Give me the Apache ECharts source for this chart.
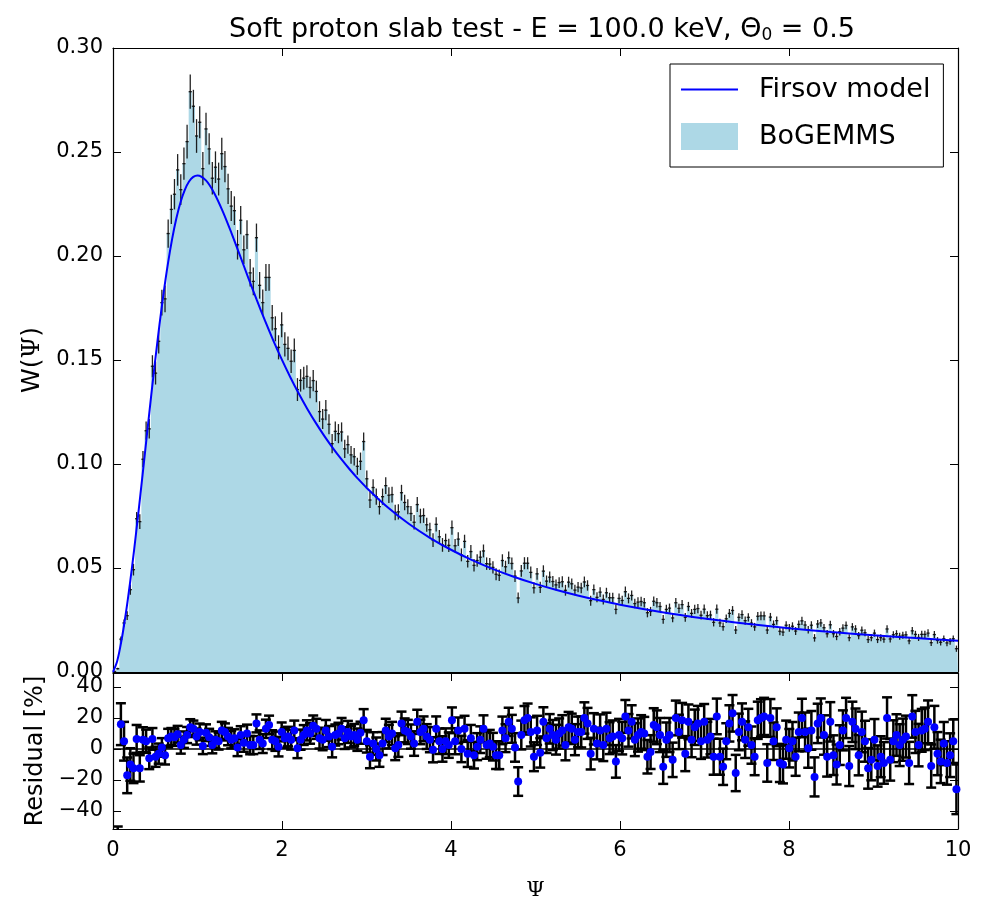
<!DOCTYPE html>
<html><head><meta charset="utf-8">
<script src="https://cdn.jsdelivr.net/npm/echarts@6/dist/echarts.min.js"></script>
<style>html,body{margin:0;padding:0;background:#fff}#c{width:986px;height:904px}</style>
</head><body><div id="c"></div>
<script>
// ---------------- data ----------------
const psiMin = 0, psiMax = 10;
const xTicks = [0, 2, 4, 6, 8, 10];
const residTicks = [-40, -20, 0, 20, 40];

// BoGEMMS histogram heights W(Psi), one per bin (equal bins on [0,10])
const histW = [
0.0003,0.0016,
0.0158,0.0236,0.0271,0.0396,0.0492,0.0737,0.0723,0.1023,0.1160,0.1169,
0.1470,0.1437,0.1590,0.1776,0.1794,0.2108,0.2224,0.2297,0.2414,0.2319,
0.2444,0.2550,0.2790,0.2720,0.2577,0.2643,0.2420,0.2611,0.2515,0.2374,
0.2427,0.2370,0.2492,0.2430,0.2323,0.2240,0.2218,0.2054,0.2172,0.2030,
0.2103,0.1919,0.1878,0.2088,0.1859,0.1776,0.1897,0.1897,0.1703,0.1650,
0.1561,0.1669,0.1575,0.1556,0.1494,0.1546,0.1358,0.1402,0.1413,0.1421,
0.1368,0.1401,0.1349,0.1252,0.1216,0.1259,0.1191,0.1098,0.1157,0.1146,
0.1154,0.1073,0.1093,0.1044,
0.1035,0.0989,0.1013,0.1108,0.0929,0.0827,0.0887,0.0843,0.0795,0.0843,
0.0896,0.0850,0.0853,0.0767,0.0770,0.0862,0.0815,0.0795,0.0762,0.0720,
0.0805,0.0750,0.0752,0.0708,0.0684,0.0634,0.0710,0.0650,0.0611,0.0632,
0.0609,0.0694,0.0607,0.0639,0.0563,0.0628,0.0532,0.0579,0.0513,0.0536,
0.0552,0.0582,0.0521,0.0519,0.0503,0.0470,
0.0465,0.0536,0.0506,0.0549,0.0522,0.0461,0.0356,0.0486,0.0523,0.0523,
0.0479,0.0405,0.0472,0.0407,0.0485,0.0437,0.0456,0.0435,0.0419,0.0430,
0.0434,0.0393,0.0432,0.0424,0.0394,0.0408,0.0404,0.0433,0.0416,0.0343,
0.0396,0.0359,0.0384,0.0349,0.0381,0.0357,0.0357,0.0301,0.0354,0.0344,
0.0386,0.0354,0.0368,0.0329,0.0336,0.0339,0.0333,0.0285,0.0291,0.0340,
0.0333,0.0315,0.0253,0.0301,0.0307,0.0260,0.0333,0.0306,0.0324,0.0263,
0.0315,0.0282,0.0301,0.0305,0.0273,0.0302,0.0271,0.0274,0.0239,0.0302,
0.0236,0.0218,0.0256,0.0282,0.0296,0.0202,0.0263,0.0276,0.0247,0.0263,
0.0235,0.0217,0.0268,0.0270,0.0270,0.0202,0.0264,0.0229,0.0247,0.0196,
0.0192,0.0225,0.0212,0.0220,0.0197,0.0229,0.0246,0.0226,0.0203,0.0225,
0.0164,
0.0231,0.0236,0.0213,0.0184,0.0227,0.0184,0.0171,0.0194,0.0211,0.0224,
0.0165,0.0217,0.0207,0.0175,0.0201,0.0189,0.0156,0.0165,0.0187,0.0156,
0.0165,0.0158,0.0207,0.0159,0.0179,0.0184,0.0172,0.0177,0.0179,0.0150,
0.0198,0.0181,0.0166,0.0181,0.0181,0.0187,0.0141,0.0180,0.0152,0.0143,
0.0160,0.0140,0.0147,0.0160,0.0112
];

// statistical error of each histogram bin (W units)
const histErr = [
0,0.0004,
0.0013,0.0017,0.0021,0.0025,0.0028,0.0032,0.0035,0.0039,0.0044,
0.0047,0.0053,0.0055,0.0059,0.0062,0.0064,0.0068,0.0070,
0.0073,0.0076,0.0074,0.0078,0.0081,0.0082,0.0079,0.0081,0.0077,0.0080,0.0078,0.0075,0.0078,0.0076,0.0079,0.0077,0.0075,0.0073,0.0072,0.0069,0.0071,0.0068,
0.0068,0.0069,0.0066,0.0067,0.0068,0.0064,0.0063,0.0065,0.0064,0.0061,0.0060,0.0058,0.0060,0.0058,0.0057,0.0056,0.0057,0.0055,0.0054,0.0055,
0.0054,0.0052,0.0051,0.0052,0.0050,0.0048,0.0049,0.0048,0.0046,0.0047,0.0046,0.0046,0.0044,0.0044,0.0043,0.0042,0.0041,0.0042,0.0043,0.0040,
0.0039,0.0040,0.0039,0.0038,0.0039,0.0040,0.0038,0.0038,0.0037,0.0037,0.0038,0.0037,0.0036,0.0036,0.0035,0.0036,0.0035,0.0035,0.0034,0.0034,0.0033,0.0034,0.0033,0.0033,0.0033,0.0032,0.0034,
0.0032,0.0033,0.0031,0.0032,0.0030,0.0031,0.0030,0.0030,0.0031,0.0031,0.0030,0.0029,0.0029,0.0029,0.0028,0.0030,0.0029,0.0030,0.0029,0.0028,0.0026,0.0028,0.0029,0.0029,0.0028,0.0027,0.0028,
0.0027,0.0028,0.0027,0.0027,0.0027,0.0026,0.0026,0.0026,0.0026,0.0026,0.0026,0.0025,0.0025,0.0025,0.0026,0.0025,0.0024,0.0025,0.0024,0.0024,0.0024,0.0024,0.0024,0.0024,0.0023,0.0024,
0.0023,0.0025,0.0024,0.0024,0.0023,0.0023,0.0023,0.0023,0.0022,0.0022,0.0023,0.0023,0.0022,0.0021,0.0022,0.0022,0.0021,0.0023,0.0022,0.0022,0.0021,0.0022,0.0021,0.0022,0.0022,0.0021,0.0022,
0.0021,0.0021,0.0020,0.0022,0.0020,0.0020,0.0020,0.0021,0.0021,0.0019,0.0020,0.0021,0.0020,0.0020,0.0019,0.0019,0.0020,0.0021,0.0021,0.0019,0.0020,0.0019,0.0020,0.0019,0.0019,0.0019,0.0019,
0.0019,0.0019,0.0019,0.0020,0.0019,0.0018,0.0019,0.0018,0.0019,0.0019,0.0018,0.0018,0.0019,0.0018,0.0018,0.0018,0.0018,0.0019,0.0017,0.0018,0.0018,0.0017,0.0018,0.0017,0.0017,0.0017,0.0017,
0.0017,0.0017,0.0017,0.0018,0.0017,0.0017,0.0017,0.0017,0.0017,0.0017,0.0016,0.0018,0.0017,0.0017,0.0017,0.0017,0.0018,0.0016,0.0017,0.0016,0.0016,0.0016,0.0016,0.0016,0.0016,0.0015
];

// residual (BoGEMMS - Firsov) / Firsov in %, one per bin
const resid = [
-100,-75,
16,5,-17,-10,-12.5,6.5,-12.5,6,5,-6,6.5,-5,-3,1,-4,7,8,7.5,9.5,2.5,6,9,14,13,8,11,2,10.5,7.5,2.5,
6,
5,12,11,8,6,7,1,9,
4,
10,2.5,2.5,16.5,6,3.5,13,15.5,6,5,1.5,11,
7,
8,6,12,0.5,6,9,12,10,15,13,7,6,12,8,1.5,
9,
10,13,7,11,8,9,6,10.5,18.5,5,-5,3.5,0,-4,3.5,12,8,10,0.5,2.5,
16.5,12,11,8,3.5,17.5,11,13,8,6,-0.5,13,5,0,5,2.5,18.5,5,12,0,
13,-3,7,-4,1.5,6,13,2.5,3.5,1.5,-4,
-4,12,7,17.5,13,1,-21,9,18.5,20,11,-5,12,-2.5,17.5,7,13,9,6,10,
12,2.5,14,13,6,11,11,20,16.5,-3,13,3.5,12,2.5,13,7,8,-8,9,7,
21,12,17.5,6,9,11,10,-5,-2,15.5,14,9,-11.5,6,9,-7,20,11,18.5,-3,
17.5,6,14,16.5,5,17.5,6,8,-5,21,-5,-11.5,5,16.5,23,-15.5,11,17.5,6,14,
2.5,-5,18.5,20,21,-9,20,5,14,-9,-10,6,0.5,5,-5,11,20,11,0.5,12,-18,
16.5,20,9,-5,17.5,-4,-10,2.5,12,20,-11,17.5,13,
-4,11,5,-12.5,-7,6,-11,-5,-9,
20,-7,5,9,2.5,6,8,
-9,21,11,2.5,12,13,17.5,-11,14,
-3,-8,3.5,-9,-4,5,-26
];

// residual error in %, one per bin
const residErr = [
0,25,
13.5,12.5,11.5,10.5,9.5,9,8.5,8,7.5,
7,7,6.5,6.5,6,6,6,5.5,
5.5,5.4,5.5,5.3,5.2,5.2,5.3,5.2,5.4,5.3,5.4,5.5,5.3,5.4,5.4,5.5,5.5,5.6,5.6,5.7,5.6,5.7,
5.8,5.7,5.9,5.8,5.8,6,6.1,5.9,6,6.1,6.2,6.3,6.1,6.2,6.3,6.4,6.3,6.4,6.5,6.4,
6.5,6.6,6.6,6.5,6.7,6.8,6.7,6.8,6.9,6.8,6.9,7,7,7.1,7,7.1,7.2,7.1,7.2,7.3,
7.4,7.3,7.4,7.5,7.4,7.5,7.6,7.5,7.7,7.6,7.6,7.7,7.8,7.8,7.9,7.8,7.9,8,8,8.1,8.1,8,8.2,8.2,8.3,8.2,8.3,
8.4,8.3,8.5,8.4,8.6,8.5,8.6,8.7,8.6,8.7,8.8,8.8,8.9,8.9,9,8.9,9,9.1,9,9.2,9.2,9.3,9.2,9.3,9.4,9.3,9.4,
9.5,9.4,9.6,9.5,9.7,9.6,9.7,9.8,9.8,9.9,9.8,10,9.9,10,10.1,10,10.2,10.1,10.2,10.3,10.3,10.4,10.3,10.4,10.5,10.4,
10.5,10.6,10.5,10.7,10.6,10.7,10.8,10.7,10.8,10.9,10.8,10.9,11,11,11.1,11,11.1,11.2,11.1,11.2,11.3,11.2,11.3,11.4,11.3,11.4,11.5,
11.5,11.4,11.6,11.5,11.6,11.7,11.6,11.7,11.8,11.7,11.8,11.9,11.8,11.9,12,11.9,12,12.1,12,12.1,12.2,12.1,12.2,12.3,12.2,12.3,12.4,
12.4,12.3,12.5,12.4,12.5,12.6,12.5,12.6,12.7,12.6,12.7,12.8,12.7,12.8,12.9,12.8,12.9,13,12.9,13,13.1,13,13.1,13.2,13.1,13.2,13.3,
13.3,13.2,13.4,13.3,13.4,13.5,13.4,13.5,13.6,13.5,13.6,13.7,13.6,13.7,13.8,13.7,13.8,13.9,13.8,13.9,14,13.9,14,14.1,14,16
];

// Firsov model curve
const psiModel = [0,0.05,0.1,0.15,0.2,0.25,0.3,0.35,0.4,0.45,0.5,0.55,0.6,0.65,0.7,0.75,0.8,0.85,0.9,0.95,1.0,
1.1,1.2,1.3,1.4,1.5,1.6,1.7,1.8,1.9,2.0,2.1,2.2,2.3,2.4,2.5,2.6,2.7,2.8,2.9,3.0,
3.25,3.5,3.75,4.0,4.25,4.5,4.75,5.0,5.25,5.5,5.75,6.0,6.5,7.0,7.5,8.0,8.5,9.0,9.5,10];
const wModel = [0,0.00534,0.01508,0.02764,0.04237,0.05877,0.07640,0.09481,0.11353,0.13211,0.15006,0.16699,0.18250,0.19632,0.20823,0.21812,0.22597,0.23183,0.23580,0.23805,0.23875,
0.23633,0.23009,0.22138,0.21127,0.20051,0.18964,0.17900,0.16879,0.15912,0.15006,0.14162,0.13377,0.12650,0.11976,0.11353,0.10777,0.10242,0.09747,0.09288,0.08861,
0.07919,0.07126,0.06453,0.05877,0.05380,0.04948,0.04570,0.04237,0.03942,0.03680,0.03445,0.03234,0.02871,0.02571,0.02319,0.02106,0.01924,0.01766,0.01629,0.01508];

// ---------------- build ----------------
const nBins = histW.length;
const binWidth = (psiMax - psiMin) / nBins;
const centers = histW.map((_, i) => psiMin + (i + 0.5) * binWidth);

const histStep = [[psiMin, histW[0]]].concat(centers.map((c, i) => [c, histW[i]]), [[psiMax, histW[nBins - 1]]]);
const histErrData = centers.map((c, i) => [c, histW[i], histErr[i], binWidth / 2]);
const residPts = centers.map((c, i) => [c, resid[i]]);
const residErrData = centers.map((c, i) => [c, resid[i], residErr[i]]);
const modelData = psiModel.map((p, i) => [p, wModel[i]]);

const FONT = 'DejaVu Sans';
const tickStyle = { inside: true, length: 8, lineStyle: { color: '#000', width: 1 } };
const lineStyle = { show: true, onZero: false, lineStyle: { color: '#000', width: 1.2 } };
const minus = v => (v < 0 ? '\u2212' + Math.abs(v) : String(v));

const chart = echarts.init(document.getElementById('c'), null, { renderer: 'canvas' });
chart.setOption({
  backgroundColor: '#fff',
  animation: false,
  title: {
    text: 'Soft proton slab test - E = 100.0 keV, {a|Θ}{b|0} = 0.5',
    left: 537, top: 11, textAlign: 'center',
    textStyle: {
      fontFamily: FONT, fontSize: 27, fontWeight: 'normal', color: '#000',
      rich: { a: { fontFamily: FONT, fontSize: 27, color: '#000' },
              b: { fontFamily: FONT, fontSize: 17, color: '#000', padding: [11, 0, 0, 0] } }
    }
  },
  legend: {
    orient: 'vertical', left: 670, top: 64,
    itemWidth: 57, itemHeight: 27, itemGap: 20,
    padding: [12, 13, 17, 10],
    borderColor: '#000', borderWidth: 1, backgroundColor: '#fff', borderRadius: 0,
    textStyle: { fontFamily: FONT, fontSize: 27, color: '#000', padding: [0, 0, 0, 16] },
    data: [{ name: 'Firsov model', itemStyle: { opacity: 0 } }, { name: 'BoGEMMS', icon: 'rect' }]
  },
  grid: [
    { left: 113, top: 48, width: 845, height: 624 },
    { left: 113, top: 673, width: 845, height: 156 }
  ],
  xAxis: [
    { gridIndex: 0, type: 'value', min: psiMin, max: psiMax, interval: 2, position: 'bottom',
      axisLine: lineStyle, axisTick: tickStyle, axisLabel: { show: false }, splitLine: { show: false } },
    { gridIndex: 0, type: 'value', min: psiMin, max: psiMax, interval: 2, position: 'top',
      axisLine: lineStyle, axisTick: tickStyle, axisLabel: { show: false }, splitLine: { show: false } },
    { gridIndex: 1, type: 'value', min: psiMin, max: psiMax, interval: 2, position: 'bottom',
      axisLine: lineStyle, axisTick: tickStyle, splitLine: { show: false },
      axisLabel: { fontFamily: FONT, fontSize: 21, color: '#000', margin: 11 },
      name: 'Ψ', nameLocation: 'middle', nameGap: 51,
      nameTextStyle: { fontFamily: 'DejaVu Serif', fontSize: 21, color: '#000' } },
    { gridIndex: 1, type: 'value', min: psiMin, max: psiMax, interval: 2, position: 'top',
      axisLine: lineStyle, axisTick: tickStyle, axisLabel: { show: false }, splitLine: { show: false } }
  ],
  yAxis: [
    { gridIndex: 0, type: 'value', min: 0, max: 0.30, interval: 0.05, position: 'left',
      axisLine: lineStyle, axisTick: tickStyle, splitLine: { show: false },
      axisLabel: { fontFamily: FONT, fontSize: 21, color: '#000', margin: 10, formatter: v => v.toFixed(2) },
      name: 'W({p|Ψ})', nameLocation: 'middle', nameGap: 64, nameRotate: 90,
      nameTextStyle: { fontFamily: FONT, fontSize: 25, color: '#000',
        rich: { p: { fontFamily: 'DejaVu Serif', fontSize: 25, color: '#000' } } } },
    { gridIndex: 0, type: 'value', min: 0, max: 0.30, interval: 0.05, position: 'right',
      axisLine: lineStyle, axisTick: tickStyle, axisLabel: { show: false }, splitLine: { show: false } },
    { gridIndex: 1, type: 'value', min: -51.6, max: 49, position: 'left',
      axisLine: lineStyle, splitLine: { show: false },
      axisTick: Object.assign({ customValues: residTicks }, tickStyle),
      axisLabel: { customValues: residTicks, fontFamily: FONT, fontSize: 21, color: '#000', margin: 10, formatter: minus },
      name: 'Residual [%]', nameLocation: 'middle', nameGap: 63, nameRotate: 90,
      nameTextStyle: { fontFamily: FONT, fontSize: 24, color: '#000' } },
    { gridIndex: 1, type: 'value', min: -51.6, max: 49, position: 'right',
      axisLine: lineStyle, splitLine: { show: false },
      axisTick: Object.assign({ customValues: residTicks }, tickStyle),
      axisLabel: { show: false } }
  ],
  series: [
    { name: 'BoGEMMS', type: 'line', xAxisIndex: 0, yAxisIndex: 0, step: 'middle',
      data: histStep, symbol: 'none', z: 1,
      itemStyle: { color: '#add8e6' }, lineStyle: { width: 0, color: '#add8e6' },
      areaStyle: { color: '#add8e6', opacity: 1 } },
    { name: 'histErr', type: 'custom', xAxisIndex: 0, yAxisIndex: 0, z: 2, clip: true,
      data: histErrData, encode: { x: 0, y: 1 },
      renderItem: (params, api) => {
        const c = api.value(0), w = api.value(1), e = api.value(2), h = api.value(3);
        const a = api.coord([c, w + e]), b = api.coord([c, w - e]);
        const l = api.coord([c - h, w]), r = api.coord([c + h, w]);
        const st = { stroke: 'rgba(10,10,10,0.9)', lineWidth: 1.3 };
        return { type: 'group', children: [
          { type: 'line', shape: { x1: a[0], y1: a[1], x2: b[0], y2: b[1] }, style: st },
          { type: 'line', shape: { x1: l[0], y1: l[1], x2: r[0], y2: r[1] }, style: st }
        ] };
      } },
    { name: 'Firsov model', type: 'line', xAxisIndex: 0, yAxisIndex: 0, data: modelData,
      smooth: 0.3, symbol: 'none', z: 5,
      itemStyle: { color: '#0000ff' }, lineStyle: { color: '#0000ff', width: 2 } },
    { name: 'residErr', type: 'custom', xAxisIndex: 2, yAxisIndex: 2, z: 2, clip: true,
      data: residErrData, encode: { x: 0, y: 1 },
      renderItem: (params, api) => {
        const c = api.value(0), v = api.value(1), e = api.value(2);
        if (!(e > 0)) return null;
        const a = api.coord([c, v + e]), b = api.coord([c, v - e]);
        const st = { stroke: '#000', lineWidth: 2.5 };
        return { type: 'group', children: [
          { type: 'line', shape: { x1: a[0], y1: a[1], x2: b[0], y2: b[1] }, style: st },
          { type: 'line', shape: { x1: a[0] - 5, y1: a[1], x2: a[0] + 5, y2: a[1] }, style: st },
          { type: 'line', shape: { x1: b[0] - 5, y1: b[1], x2: b[0] + 5, y2: b[1] }, style: st }
        ] };
      } },
    { name: 'residual', type: 'scatter', xAxisIndex: 2, yAxisIndex: 2, data: residPts, z: 4,
      symbolSize: 8, itemStyle: { color: '#0000ff', opacity: 1 }, clip: true,
      markLine: { silent: true, symbol: 'none', data: [{ yAxis: 0 }], z: 3,
        lineStyle: { color: '#000', width: 1.5, type: 'solid' }, label: { show: false } } }
  ]
});
</script></body></html>
